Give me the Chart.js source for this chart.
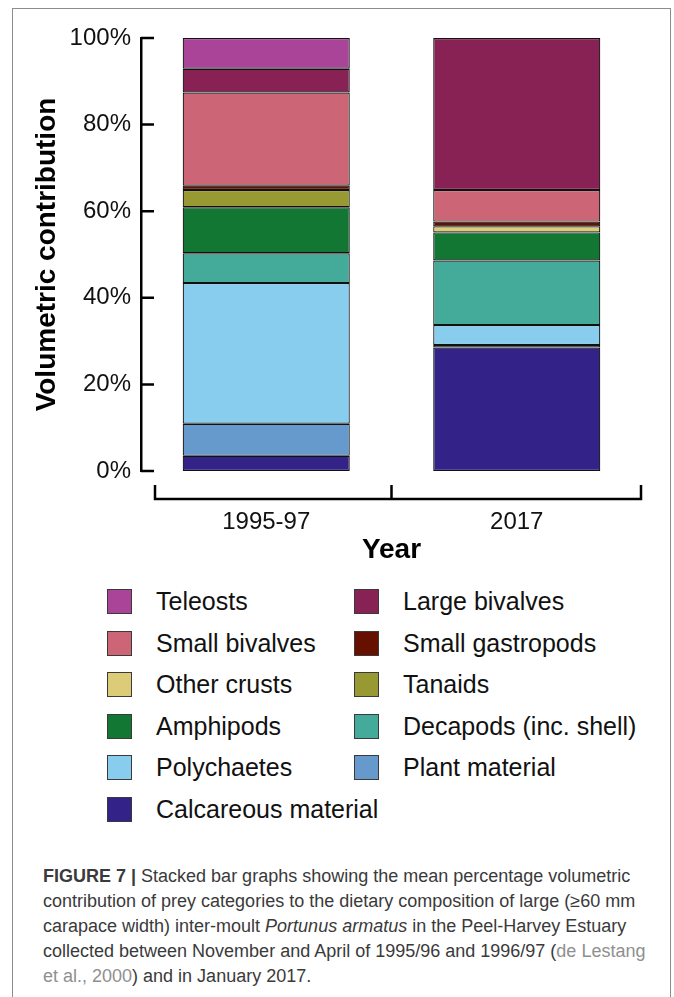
<!DOCTYPE html>
<html>
<head>
<meta charset="utf-8">
<script src="https://cdn.jsdelivr.net/npm/chart.js@4/dist/chart.umd.min.js"></script>
<style>
  html, body { margin: 0; padding: 0; background: #fff; }
  body { width: 674px; height: 997px; position: relative; overflow: hidden; font-family: "Liberation Sans", Arial, sans-serif; }
  .frame { position: absolute; left: 12px; top: 8px; width: 659px; height: 1010px; border: 1px solid #8c8c8c; box-sizing: border-box; }
  #chart { position: absolute; left: 0; top: 0; }
  .legend-item { position: absolute; height: 25px; display: flex; align-items: center; font-size: 25px; color: #111; white-space: nowrap; }
  .legend-item span.box { width: 25px; height: 25px; box-sizing: border-box; border: 1.5px solid #3a3a3a; margin-right: 24px; }
  .caption { position: absolute; left: 43px; top: 864px; font-size: 18px; line-height: 25px; color: #3a3a3a; white-space: nowrap; }
  .caption .ref { color: #8f8f8f; }
</style>
</head>
<body>
<div class="frame"></div>
<canvas id="chart" width="674" height="564"></canvas>
<div id="legend"></div>
<div class="caption"><b>FIGURE 7 |</b> Stacked bar graphs showing the mean percentage volumetric<br>contribution of prey categories to the dietary composition of large (≥60 mm<br>carapace width) inter-moult <i>Portunus armatus</i> in the Peel-Harvey Estuary<br>collected between November and April of 1995/96 and 1996/97 (<span class="ref">de Lestang</span><br><span class="ref">et al., 2000</span>) and in January 2017.</div>
<script>
// periodos
const years = ['1995-97', '2017'];
const yTicks = [0, 20, 40, 60, 80, 100];

// % volumetrico por categoria (de abajo hacia arriba)
const calcareous = [3.5, 28.5];
const plant = [7.4, 0.6];
const polychaetes = [32.5, 4.6];
const decapods = [6.9, 14.9];
const amphipods = [10.6, 6.5];
const tanaids = [4.0, 0];
const otherCrusts = [0, 1.4];
const smallGastropods = [1.0, 1.1];
const smallBivalves = [21.5, 7.3];
const largeBivalves = [5.5, 35.1];
const teleosts = [7.1, 0];

const series = [
  ['Calcareous material', calcareous, '#332288'],
  ['Plant material', plant, '#6699CC'],
  ['Polychaetes', polychaetes, '#88CCEE'],
  ['Decapods (inc. shell)', decapods, '#44AA99'],
  ['Amphipods', amphipods, '#117733'],
  ['Tanaids', tanaids, '#999933'],
  ['Other crusts', otherCrusts, '#DDCC77'],
  ['Small gastropods', smallGastropods, '#661100'],
  ['Small bivalves', smallBivalves, '#CC6677'],
  ['Large bivalves', largeBivalves, '#882255'],
  ['Teleosts', teleosts, '#AA4499']
];

Chart.defaults.font.family = '"Liberation Sans", Arial, sans-serif';
Chart.defaults.color = '#111';

// ejes tipo "bracket": ticks hacia dentro en Y, eje X separado
const axisBrackets = {
  id: 'axisBrackets',
  afterDraw(chart) {
    const ctx = chart.ctx;
    const area = chart.chartArea;
    const y = chart.scales.y;
    const x = chart.scales.x;
    ctx.save();
    ctx.strokeStyle = '#000';
    ctx.lineWidth = 2.5;
    ctx.beginPath();
    y.ticks.forEach(t => {
      const py = y.getPixelForValue(t.value);
      ctx.moveTo(area.left, py);
      ctx.lineTo(area.left + 13, py);
    });
    const by = area.bottom + 28;
    const left = x.left + 14;
    const right = x.right - 1;
    const mid = (x.getPixelForValue(0) + x.getPixelForValue(1)) / 2;
    ctx.moveTo(left, by - 14);
    ctx.lineTo(left, by);
    ctx.lineTo(right, by);
    ctx.lineTo(right, by - 14);
    ctx.moveTo(mid, by);
    ctx.lineTo(mid, by - 14);
    ctx.stroke();
    ctx.restore();
  }
};

const chart = new Chart(document.getElementById('chart'), {
  type: 'bar',
  data: {
    labels: years,
    datasets: series.map(s => ({
      label: s[0],
      data: s[1],
      backgroundColor: s[2],
      borderColor: '#111',
      borderWidth: 1.2,
      borderSkipped: false,
      barPercentage: 0.667,
      categoryPercentage: 1
    }))
  },
  options: {
    responsive: false,
    animation: false,
    layout: { padding: { top: 38, left: 33, right: 32, bottom: 0 } },
    plugins: { legend: { display: false }, tooltip: { enabled: false } },
    scales: {
      x: {
        stacked: true,
        afterFit: s => { s.height = 93; },
        grid: { display: false, drawTicks: false },
        border: { display: false },
        ticks: { font: { size: 24, lineHeight: 1 }, padding: 39, color: '#111' },
        title: { display: true, text: 'Year', font: { size: 28, weight: 'bold', lineHeight: 1 }, padding: { top: 2, bottom: 0 }, color: '#000' }
      },
      y: {
        stacked: true,
        min: 0,
        max: 100,
        afterBuildTicks: s => { s.ticks = yTicks.map(v => ({ value: v })); },
        afterFit: s => { s.width = 108; },
        grid: { display: false, drawTicks: false },
        border: { display: true, color: '#000', width: 2.5 },
        ticks: { font: { size: 24, lineHeight: 1 }, padding: 10, color: '#111', callback: v => v + '%' },
        title: { display: true, text: 'Volumetric contribution', font: { size: 28, weight: 'bold', lineHeight: 1 }, padding: 0, color: '#000' }
      }
    }
  },
  plugins: [axisBrackets]
});

// leyenda en dos columnas, de arriba hacia abajo como las barras
const legend = document.getElementById('legend');
chart.data.datasets.slice().reverse().forEach((ds, i) => {
  const item = document.createElement('div');
  item.className = 'legend-item';
  item.style.left = (i % 2 ? 354 : 107) + 'px';
  item.style.top = (589 + Math.floor(i / 2) * 41.6) + 'px';
  item.innerHTML = '<span class="box" style="background:' + ds.backgroundColor + '"></span>' + ds.label;
  legend.appendChild(item);
});
</script>
</body>
</html>
